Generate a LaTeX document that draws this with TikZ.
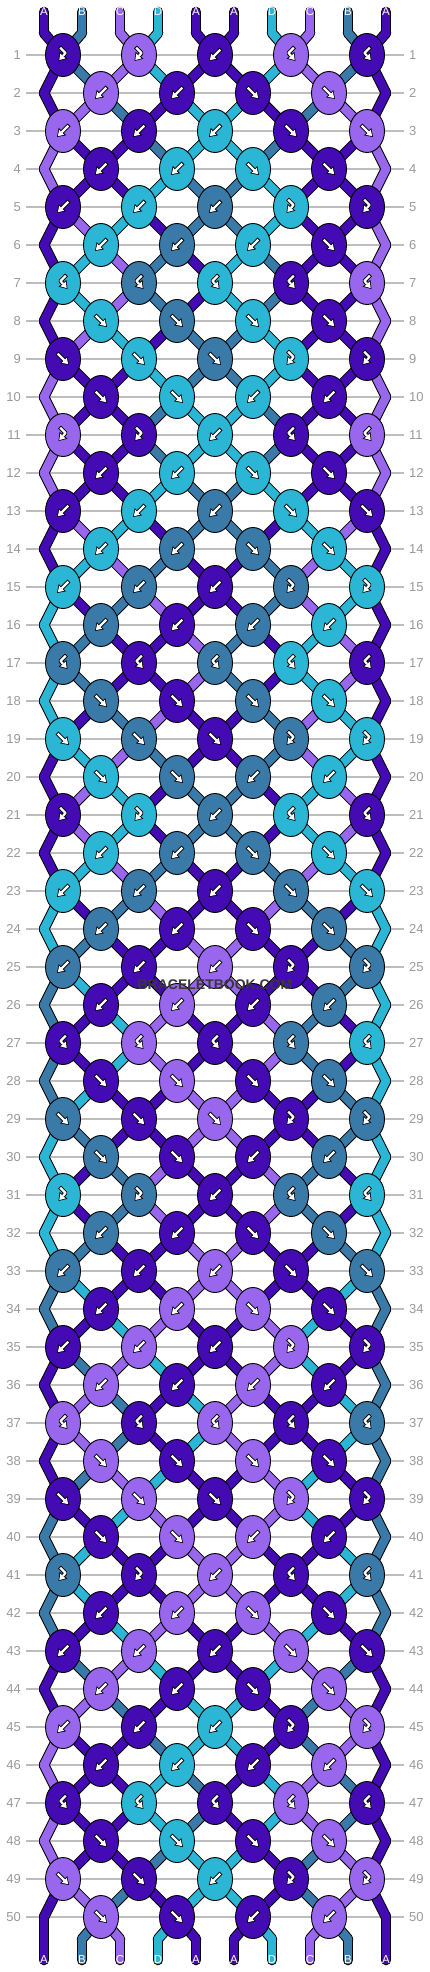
\documentclass[tikz,border=0pt]{standalone}
\usepackage{fontspec}
\setmainfont{Liberation Sans}
\usepackage{tikz}
\usetikzlibrary{shapes.geometric,arrows.meta}
\definecolor{strA}{HTML}{440BB4}
\definecolor{strB}{HTML}{3A7AA8}
\definecolor{strC}{HTML}{9966EE}
\definecolor{strD}{HTML}{2AB6D4}
\definecolor{numgray}{HTML}{999999}
\definecolor{linegray}{HTML}{BDBDBD}
\pgfdeclarelayer{grid}
\pgfdeclarelayer{threads}
\pgfsetlayers{grid,threads,main}
\tikzstyle{knot} = [ellipse, draw=black, line width=0.9pt, minimum width=35pt, minimum height=43pt, inner sep=0pt]
\tikzstyle{glyph} = [black, line width=4.2pt, line join=round, -{Triangle[length=7.6pt,width=10.4pt,line width=0pt]}]
\tikzstyle{glyphin} = [white, line width=2.2pt, line join=round, shorten <=1pt, shorten >=1.3pt, -{Triangle[length=5.4pt,width=7.2pt,line width=0pt]}]

% name of the point where string #2 sits at level #1 -> \nm
\newcommand\spot[2]{%
  \ifnum#1=0 \edef\nm{tb-#2}%
  \else\ifnum#1=51 \edef\nm{bb-#2}%
  \else\ifodd#1 \pgfmathtruncatemacro\kk{floor(#2/2)}\edef\nm{k-#1-\kk}%
  \else\ifnum#2=0 \edef\nm{k-#1-L}%
  \else\ifnum#2=9 \edef\nm{k-#1-R}%
  \else\pgfmathtruncatemacro\kk{floor((#2-1)/2)}\edef\nm{k-#1-\kk}%
  \fi\fi\fi\fi\fi}

\begin{document}
\begin{tikzpicture}[x=1pt, y=-1pt,
    threadedge/.style={draw=black, line width=10.6pt, line cap=round, line join=round},
    thread/.style={draw=str#1, line width=8.6pt, line cap=round, line join=round},
    rownum/.style={text=numgray, inner sep=0pt, font=\fontsize{13}{13}\selectfont},
    rowline/.style={draw=linegray, line width=1.2pt, shorten <=5pt, shorten >=5pt},
    strlbl/.style={text=white, inner sep=0pt, font=\fontsize{11.5}{11.5}\selectfont},
    arrf/.pic={\draw[glyph] (-6,-6) -- (6,6); \draw[glyphin] (-6,-6) -- (6,6);},
    arrb/.pic={\draw[glyph] (6,-6) -- (-6,6); \draw[glyphin] (6,-6) -- (-6,6);},
    arrfb/.pic={\draw[glyph] (-3.5,-8) -- (2.5,-2) -- (-4.5,6); \draw[glyphin] (-3.5,-8) -- (2.5,-2) -- (-4.5,6);},
    arrbf/.pic={\draw[glyph] (3.5,-8) -- (-2.5,-2) -- (4.5,6); \draw[glyphin] (3.5,-8) -- (-2.5,-2) -- (4.5,6);}]
\useasboundingbox (0,0) rectangle (430,1972);

% row numbers and guide lines
\foreach \r in {1,...,50} {
  \node[rownum, anchor=east] (ln-\r) at (21, 17+38*\r) {\r};
  \node[rownum, anchor=west] (rn-\r) at (409, 17+38*\r) {\r};
  \begin{pgfonlayer}{grid}
    \draw[rowline] (ln-\r.east) -- (rn-\r.west);
  \end{pgfonlayer}
}

% string ends
\foreach \clr [count=\j from 0] in {A,B,C,D,A,A,D,C,B,A} {
  \node[strlbl] (top-\j) at (44+38*\j, 12) {\clr};
  \node[strlbl] (bot-\j) at (44+38*\j, 1960) {\clr};
  \coordinate (tb-\j) at (44+38*\j, 33);
  \coordinate (bb-\j) at (44+38*\j, 1939);
}

% knots: type/colour
\foreach \r/\knots in {
  1/{fb/A,fb/C,b/A,bf/C,bf/A}, 2/{b/C,b/A,f/A,f/C},
  3/{b/C,b/A,b/D,f/A,f/C}, 4/{b/A,b/D,f/D,f/A},
  5/{b/A,b/D,b/B,fb/D,fb/A}, 6/{b/D,b/B,b/D,f/A},
  7/{bf/D,bf/B,bf/D,bf/A,bf/C}, 8/{f/D,f/B,f/D,f/A},
  9/{f/A,f/D,f/B,fb/D,fb/A}, 10/{f/A,f/D,b/D,b/A},
  11/{fb/C,fb/A,b/D,bf/A,bf/C}, 12/{b/A,b/D,f/D,f/A},
  13/{b/A,b/D,b/B,f/D,f/A}, 14/{b/D,b/B,f/B,f/D},
  15/{b/D,b/B,b/A,fb/B,fb/D}, 16/{b/B,b/A,b/B,b/D},
  17/{bf/B,bf/A,bf/B,bf/D,bf/A}, 18/{f/B,f/A,f/B,f/D},
  19/{f/D,f/B,f/A,fb/B,fb/D}, 20/{f/D,f/B,b/B,b/D},
  21/{fb/A,fb/D,b/B,bf/D,bf/A}, 22/{b/D,b/B,f/B,f/D},
  23/{b/D,b/B,b/A,f/B,f/D}, 24/{b/B,b/A,f/A,f/B},
  25/{b/B,b/A,b/C,fb/A,fb/B}, 26/{b/A,b/C,b/A,b/B},
  27/{bf/A,bf/C,bf/A,bf/B,bf/D}, 28/{f/A,f/C,f/A,f/B},
  29/{f/B,f/A,f/C,fb/A,fb/B}, 30/{f/B,f/A,b/A,b/B},
  31/{fb/D,fb/B,b/A,bf/B,bf/D}, 32/{b/B,b/A,f/A,f/B},
  33/{b/B,b/A,b/C,f/A,f/B}, 34/{b/A,b/C,f/C,f/A},
  35/{b/A,b/C,b/A,fb/C,fb/A}, 36/{b/C,b/A,b/C,b/A},
  37/{bf/C,bf/A,bf/C,bf/A,bf/B}, 38/{f/C,f/A,f/C,f/A},
  39/{f/A,f/C,f/A,fb/C,fb/A}, 40/{f/A,f/C,b/C,b/A},
  41/{fb/B,fb/A,b/C,bf/A,bf/B}, 42/{b/A,b/C,f/C,f/A},
  43/{b/A,b/C,b/A,f/C,f/A}, 44/{b/C,b/A,f/A,f/C},
  45/{b/C,b/A,b/D,fb/A,fb/C}, 46/{b/A,b/D,b/A,b/C},
  47/{bf/A,bf/D,bf/A,bf/C,bf/A}, 48/{f/A,f/D,f/A,f/C},
  49/{f/C,f/A,b/D,fb/A,fb/C}, 50/{f/C,f/A,b/A,b/C}} {
  \pgfmathsetmacro\ky{17+38*\r}
  \pgfmathsetmacro\kx{101-38*mod(\r,2)}
  \ifodd\r\else
    \coordinate (k-\r-L) at (44,\ky);
    \coordinate (k-\r-R) at (386,\ky);
  \fi
  \foreach \t/\clr [count=\i from 0] in \knots {
    \node[knot, fill=str\clr] (k-\r-\i) at (\kx+76*\i, \ky) {};
    \pic at (k-\r-\i) {arr\t};
  }
}

% threads: order of the strings before each level
\begin{pgfonlayer}{threads}
\foreach \pass in {threadedge,thread} {
  \foreach \clr [count=\j from 0] in {A,B,C,D,A,A,D,C,B,A} {
    \draw[\pass=\clr] (top-\j.center) -- (tb-\j.center);
    \draw[\pass=\clr] (bb-\j.center) -- (bot-\j.center);
  }
  \foreach \s [count=\r from 1] in {
    {A,B,C,D,A,A,D,C,B,A}, {A,B,C,D,A,A,D,C,B,A}, {A,C,B,A,D,D,A,B,C,A},
    {C,A,A,B,D,D,B,A,A,C}, {C,A,A,D,B,B,D,A,A,C}, {A,C,D,A,B,B,D,A,A,C},
    {A,D,C,B,A,D,B,A,A,C}, {A,D,C,B,A,D,B,A,A,C}, {A,C,D,A,B,B,D,A,A,C},
    {C,A,A,D,B,B,D,A,A,C}, {C,A,A,B,D,D,B,A,A,C}, {C,A,A,B,D,D,B,A,A,C},
    {C,A,A,D,B,B,D,A,A,C}, {A,C,D,A,B,B,A,D,C,A}, {A,D,C,B,A,A,B,C,D,A},
    {D,A,B,C,A,A,B,C,D,A}, {D,B,A,A,C,B,A,D,C,A}, {D,B,A,A,C,B,A,D,C,A},
    {D,A,B,C,A,A,B,C,D,A}, {A,D,C,B,A,A,B,C,D,A}, {A,C,D,A,B,B,A,D,C,A},
    {A,C,D,A,B,B,A,D,C,A}, {A,D,C,B,A,A,B,C,D,A}, {D,A,B,C,A,A,C,B,A,D},
    {D,B,A,A,C,C,A,A,B,D}, {B,D,A,A,C,C,A,A,B,D}, {B,A,D,C,A,A,C,B,A,D},
    {B,A,D,C,A,A,C,B,A,D}, {B,D,A,A,C,C,A,A,B,D}, {D,B,A,A,C,C,A,A,B,D},
    {D,A,B,C,A,A,C,B,A,D}, {D,A,B,C,A,A,C,B,A,D}, {D,B,A,A,C,C,A,A,B,D},
    {B,D,A,A,C,C,A,A,D,B}, {B,A,D,C,A,A,C,D,A,B}, {A,B,C,D,A,A,C,D,A,B},
    {A,C,B,A,D,C,A,A,D,B}, {A,C,B,A,D,C,A,A,D,B}, {A,B,C,D,A,A,C,D,A,B},
    {B,A,D,C,A,A,C,D,A,B}, {B,D,A,A,C,C,A,A,D,B}, {B,D,A,A,C,C,A,A,D,B},
    {B,A,D,C,A,A,C,D,A,B}, {A,B,C,D,A,A,D,C,B,A}, {A,C,B,A,D,D,A,B,C,A},
    {C,A,A,B,D,D,A,B,C,A}, {C,A,A,D,B,A,D,C,B,A}, {C,A,A,D,B,A,D,C,B,A},
    {C,A,A,B,D,D,A,B,C,A}, {A,C,B,A,D,D,A,B,C,A}, {A,B,C,D,A,A,D,C,B,A}} {
    \pgfmathtruncatemacro\q{\r-1}
    \foreach \clr [count=\j from 0] in \s {
      \spot{\q}{\j}\let\na\nm
      \spot{\r}{\j}\let\nb\nm
      \draw[\pass=\clr] (\na.center) -- (\nb.center);
    }
  }
}
\end{pgfonlayer}

\node[font=\bfseries\fontsize{14}{14}\selectfont, text=black!78] (mark) at (215,985) {BRACELETBOOK.COM};
\end{tikzpicture}
\end{document}
